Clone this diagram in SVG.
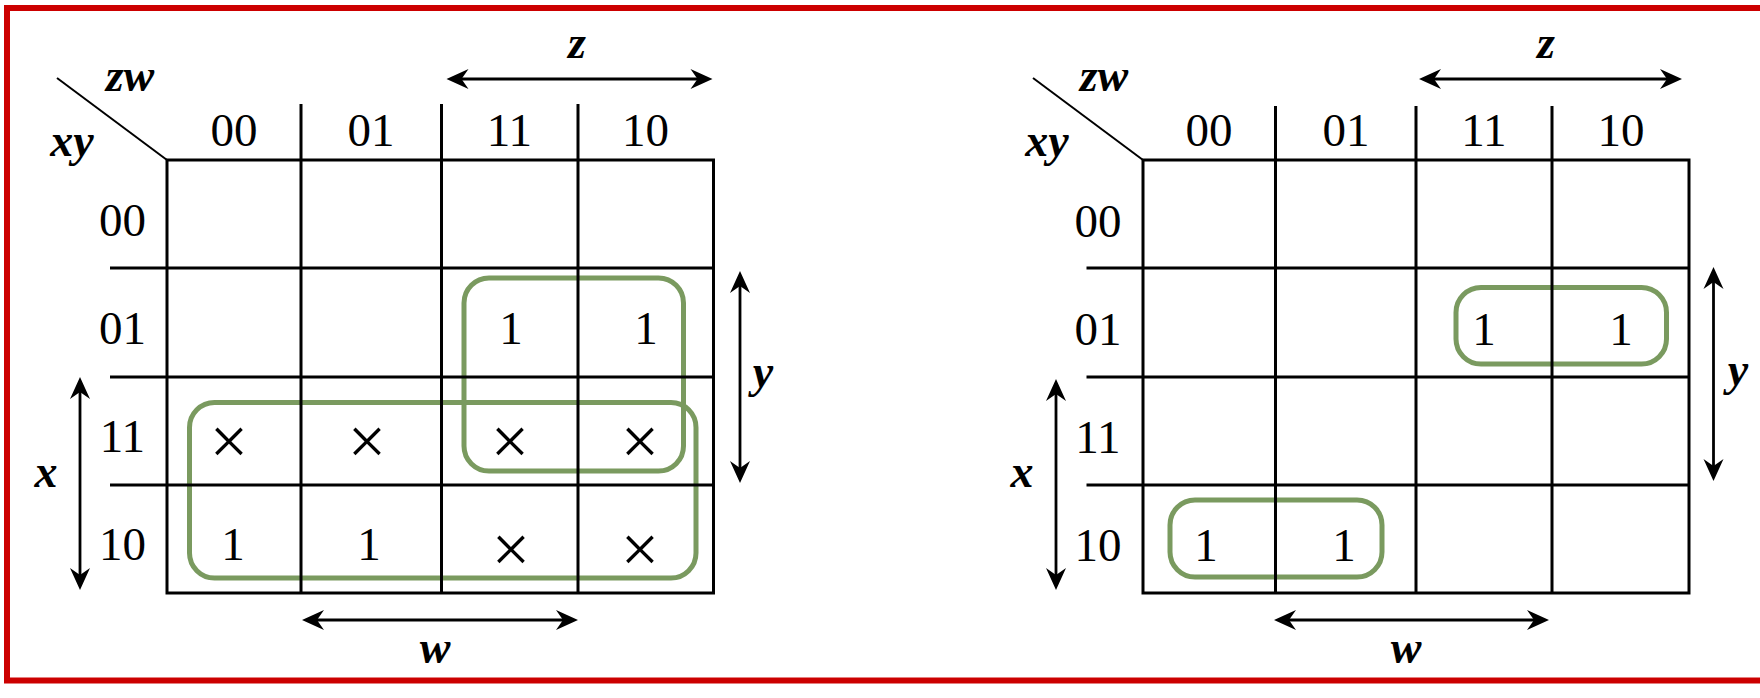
<svg xmlns="http://www.w3.org/2000/svg" width="1760" height="698" viewBox="0 0 1760 698">
<style>
.grid{stroke:#000;stroke-width:3;fill:none}
.diag{stroke:#000;stroke-width:2;fill:none}
.grp{stroke:#7a9a5f;stroke-width:5;fill:none}
.arr{stroke:#000;stroke-width:2.8;fill:none;marker-start:url(#ah);marker-end:url(#ah)}
.num{font-family:"Liberation Serif","Times New Roman",serif;font-size:47px;fill:#000;text-anchor:middle}
.dc{font-family:"Liberation Serif","Times New Roman",serif;font-size:68px;fill:#000;text-anchor:middle}
.var{font-family:"Liberation Serif","Times New Roman",serif;font-size:46px;font-style:italic;font-weight:bold;fill:#000;text-anchor:middle}
</style>
<defs>
<marker id="ah" viewBox="-23 -11 24 22" refX="-6" refY="0" markerWidth="24" markerHeight="22" markerUnits="userSpaceOnUse" orient="auto-start-reverse">
<path d="M0,0 L-22,-10 L-15,0 L-22,10 Z" fill="#000"/>
</marker>
</defs>
<rect width="1760" height="698" fill="#fff"/>
<rect id="frame" x="7" y="8" width="1780" height="672.5" fill="none" stroke="#cc0000" stroke-width="6"/>

<g id="map-left">
  <g id="groups-left">
    <rect class="grp" x="464" y="278" width="219.5" height="193" rx="25"/>
    <rect class="grp" x="189.5" y="402.5" width="506.5" height="175.5" rx="25"/>
  </g>
  <g id="grid-left">
    <rect class="grid" x="167" y="160" width="546.5" height="433"/>
    <line class="grid" x1="301" y1="104" x2="301" y2="593"/>
    <line class="grid" x1="441.5" y1="104" x2="441.5" y2="593"/>
    <line class="grid" x1="578" y1="104" x2="578" y2="593"/>
    <line class="grid" x1="110" y1="268" x2="713.5" y2="268"/>
    <line class="grid" x1="110" y1="377" x2="713.5" y2="377"/>
    <line class="grid" x1="110" y1="485" x2="713.5" y2="485"/>
    <line class="diag" x1="57" y1="78" x2="167" y2="160"/>
  </g>
  <g id="labels-left">
    <text class="var" x="130" y="91">zw</text>
    <text class="var" x="72" y="156">xy</text>
    <text class="num" x="234" y="146">00</text>
    <text class="num" x="371" y="146">01</text>
    <text class="num" x="509.5" y="146">11</text>
    <text class="num" x="645.5" y="146">10</text>
    <text class="num" x="122.5" y="236">00</text>
    <text class="num" x="122.5" y="344">01</text>
    <text class="num" x="122.5" y="452">11</text>
    <text class="num" x="122.5" y="560">10</text>
  </g>
  <g id="cells-left">
    <text class="num" x="511" y="344">1</text>
    <text class="num" x="646" y="344">1</text>
    <text class="dc" x="229" y="464">×</text>
    <text class="dc" x="367" y="464">×</text>
    <text class="dc" x="510" y="464">×</text>
    <text class="dc" x="640" y="464">×</text>
    <text class="num" x="233" y="560">1</text>
    <text class="num" x="369" y="560">1</text>
    <text class="dc" x="511" y="572">×</text>
    <text class="dc" x="640" y="572">×</text>
  </g>
  <g id="vars-left">
    <text class="var" x="577" y="58">z</text>
    <text class="var" x="763" y="387">y</text>
    <text class="var" x="46" y="487">x</text>
    <text class="var" x="435" y="663">w</text>
  </g>
</g>

<g id="map-right">
  <g id="groups-right">
    <rect class="grp" x="1456" y="287.5" width="210.5" height="76.5" rx="25"/>
    <rect class="grp" x="1170" y="500" width="212" height="77" rx="25"/>
  </g>
  <g id="grid-right">
    <rect class="grid" x="1143" y="160" width="546" height="433"/>
    <line class="grid" x1="1275.5" y1="106" x2="1275.5" y2="593"/>
    <line class="grid" x1="1416" y1="106" x2="1416" y2="593"/>
    <line class="grid" x1="1552" y1="106" x2="1552" y2="593"/>
    <line class="grid" x1="1086.5" y1="268" x2="1689" y2="268"/>
    <line class="grid" x1="1086.5" y1="377" x2="1689" y2="377"/>
    <line class="grid" x1="1086.5" y1="485" x2="1689" y2="485"/>
    <line class="diag" x1="1033" y1="78" x2="1143" y2="160"/>
  </g>
  <g id="labels-right">
    <text class="var" x="1104" y="91">zw</text>
    <text class="var" x="1047" y="156">xy</text>
    <text class="num" x="1209" y="146">00</text>
    <text class="num" x="1346" y="146">01</text>
    <text class="num" x="1484" y="146">11</text>
    <text class="num" x="1621" y="146">10</text>
    <text class="num" x="1098" y="237">00</text>
    <text class="num" x="1098" y="345">01</text>
    <text class="num" x="1098" y="453">11</text>
    <text class="num" x="1098" y="561">10</text>
  </g>
  <g id="cells-right">
    <text class="num" x="1484" y="345">1</text>
    <text class="num" x="1621" y="345">1</text>
    <text class="num" x="1206" y="561">1</text>
    <text class="num" x="1344" y="561">1</text>
  </g>
  <g id="vars-right">
    <text class="var" x="1546" y="58">z</text>
    <text class="var" x="1738" y="385">y</text>
    <text class="var" x="1022" y="487">x</text>
    <text class="var" x="1406" y="663">w</text>
  </g>
</g>

<g id="connectors">
  <line class="arr" x1="452.5" y1="79" x2="706.5" y2="79"/>
  <line class="arr" x1="740" y1="277" x2="740" y2="477"/>
  <line class="arr" x1="80" y1="383" x2="80" y2="584"/>
  <line class="arr" x1="308" y1="620" x2="572" y2="620"/>
  <line class="arr" x1="1425" y1="79" x2="1676" y2="79"/>
  <line class="arr" x1="1713.5" y1="273" x2="1713.5" y2="475"/>
  <line class="arr" x1="1056" y1="385" x2="1056" y2="584"/>
  <line class="arr" x1="1280" y1="620" x2="1543" y2="620"/>
</g>
</svg>
